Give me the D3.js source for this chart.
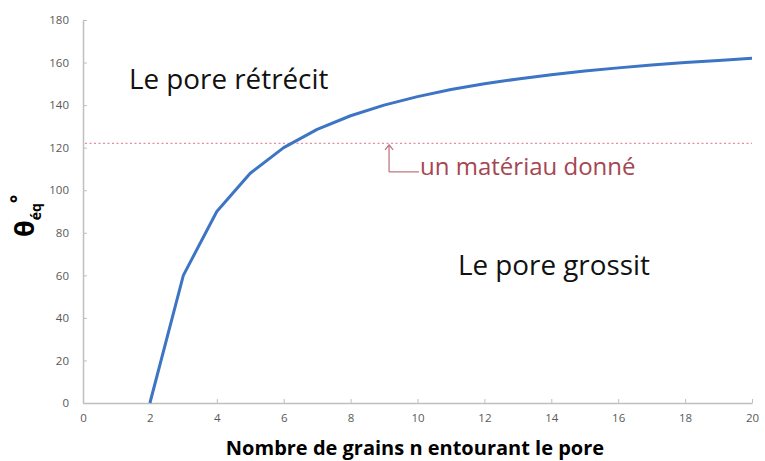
<!DOCTYPE html>
<html><head><meta charset="utf-8">
<script src="https://cdn.jsdelivr.net/npm/d3@7"></script>
<style>body{margin:0;background:#fff}svg{display:block}</style>
</head><body>
<script>
const nValues = [2,3,4,5,6,7,8,9,10,11,12,13,14,15,16,17,18,19,20];
const thetaValues = [0,60,90,108,120,128.6,135,140,144,147.3,150,152.3,154.3,156,157.5,158.8,160,161,162];
const materialValue = 122;
const materialArrowN = 9.15;
const xTicks = [0,2,4,6,8,10,12,14,16,18,20];
const yTicks = [0,20,40,60,80,100,120,140,160,180];

const W = 765, H = 461;
const m = {left:83, right:13, top:20, bottom:58};
const svg = d3.select("body").append("svg").attr("width",W).attr("height",H);
const x = d3.scaleLinear().domain([0,20]).range([m.left, W-m.right]);
const y = d3.scaleLinear().domain([0,180]).range([H-m.bottom, m.top]);
const font = "'Open Sans', 'Noto Sans', sans-serif";

const xa = svg.append("g").attr("transform",`translate(0,${y(0)})`)
  .call(d3.axisBottom(x).tickValues(xTicks).tickSizeInner(-4).tickSizeOuter(0).tickPadding(11));
const ya = svg.append("g").attr("transform",`translate(${x(0)},0)`)
  .call(d3.axisLeft(y).tickValues(yTicks).tickSizeInner(-4).tickSizeOuter(0).tickPadding(14));
[xa,ya].forEach(a=>{
  a.select(".domain").attr("stroke","#bfbfbf").attr("stroke-width",1.5);
  a.selectAll(".tick line").attr("stroke","#bfbfbf");
  a.selectAll("text").attr("fill","#595959").style("font-family",font).style("font-size","11.5px");
});

// material line
svg.append("line").attr("x1",x(0)+2).attr("x2",x(20)).attr("y1",y(materialValue)).attr("y2",y(materialValue))
  .attr("stroke","#e0909a").attr("stroke-width",1.3).attr("stroke-dasharray","2,2.5");

// curve
svg.append("path").datum(nValues.map((n,i)=>[n,thetaValues[i]]))
  .attr("d", d3.line().x(d=>x(d[0])).y(d=>y(d[1])))
  .attr("fill","none").attr("stroke","#3d74c4").attr("stroke-width",3).attr("stroke-linejoin","round");

// arrow annotation
const ax = x(materialArrowN), ay = y(materialValue)+1.5;
const col = "#c07884";
svg.append("path").attr("d",`M${ax},${ay+27} L${ax},${ay} M${ax-4},${ay+5} L${ax},${ay} L${ax+4},${ay+5} M${ax},${ay+27} L${ax+30},${ay+27}`)
  .attr("fill","none").attr("stroke",col).attr("stroke-width",1.3);
svg.append("text").attr("x",ax+31).attr("y",175).text("un matériau donné")
  .attr("fill","#a54652").style("font-family",font).style("font-size","24px");

svg.append("text").attr("x",129).attr("y",89).text("Le pore rétrécit")
  .attr("fill","#111").style("font-family",font).style("font-size","27.8px");
svg.append("text").attr("x",458).attr("y",275).text("Le pore grossit")
  .attr("fill","#111").style("font-family",font).style("font-size","27.8px");

// axis titles
svg.append("text").attr("x",415).attr("y",455).attr("text-anchor","middle")
  .text("Nombre de grains n entourant le pore")
  .attr("fill","#000").style("font-family",font).style("font-size","20px").style("font-weight","bold");
const yt = svg.append("text").attr("transform","translate(34,237) rotate(-90)").attr("text-anchor","start")
  .attr("fill","#000").style("font-family",font).style("font-weight","bold");
yt.append("tspan").text("θ").style("font-size","27px");
yt.append("tspan").text("éq").attr("dy",7).style("font-size","14px");
yt.append("tspan").text("°").attr("dy",-16).style("font-size","20px");
</script>
</body></html>
